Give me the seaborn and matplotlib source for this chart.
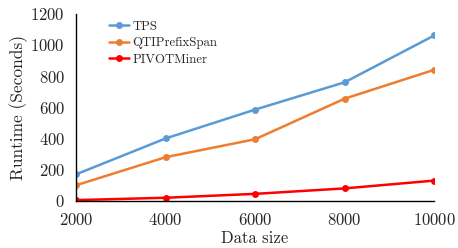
import matplotlib
matplotlib.use('Agg')
import pandas as pd
import matplotlib.pyplot as plt
import seaborn as sns

# data
data_size = [2000, 4000, 6000, 8000, 10000]
tps = [170, 400, 585, 760, 1060]
qti = [100, 280, 395, 655, 840]
pivot = [5, 20, 45, 80, 130]

df = pd.DataFrame({
    'Data size': data_size * 3,
    'Runtime': tps + qti + pivot,
    'Method': ['TPS'] * 5 + ['QTIPrefixSpan'] * 5 + ['PIVOTMiner'] * 5,
})

sns.set_style('white')
plt.rcParams['font.family'] = ['cmr10', 'DejaVu Serif']
plt.rcParams['axes.formatter.use_mathtext'] = True

fig = plt.figure(figsize=(4.58, 2.48), dpi=100)
ax = fig.add_axes([0.166, 0.19, 0.782, 0.755])
palette = {'TPS': '#5B9BD5', 'QTIPrefixSpan': '#ED7D31', 'PIVOTMiner': '#FF0000'}
sns.lineplot(data=df, x='Data size', y='Runtime', hue='Method', palette=palette,
             marker='o', markersize=5, markeredgewidth=0, linewidth=1.8, ax=ax)

ax.set_xlim(2000, 10000)
ax.set_ylim(0, 1200)
ax.set_xticks(data_size)
ax.set_yticks(range(0, 1201, 200))
ax.tick_params(axis='both', labelsize=12, length=0)
ax.tick_params(axis='x', pad=8)
ax.tick_params(axis='y', pad=8)
ax.set_xlabel('Data size', fontsize=12, labelpad=2)
ax.set_ylabel('Runtime (Seconds)', fontsize=12.5, labelpad=2)
sns.despine(ax=ax)
for s in ['left', 'bottom']:
    ax.spines[s].set_color('black')
    ax.spines[s].set_linewidth(1.0)

leg = ax.legend(loc='upper left', bbox_to_anchor=(0.06, 1.025), frameon=False,
                fontsize=9.2, handlelength=1.6, handletextpad=0.25, labelspacing=0.35)

fig.savefig('out.png', dpi=100)
